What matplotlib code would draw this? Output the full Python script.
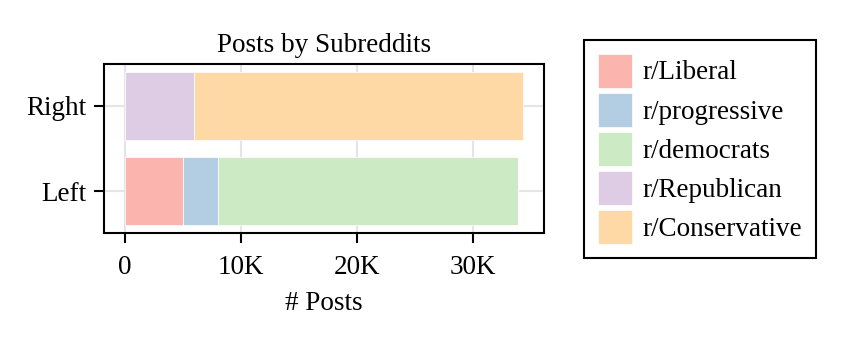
import matplotlib
matplotlib.use("Agg")
import matplotlib.pyplot as plt
from matplotlib.ticker import FuncFormatter

groups = ["Left", "Right"]
subreddits = ["r/Liberal", "r/progressive", "r/democrats", "r/Republican", "r/Conservative"]
posts_left = [5000, 3000, 25850, 0, 0]
posts_right = [0, 0, 0, 5920, 28380]
colors = ["#fbb4ae", "#b3cde3", "#ccebc5", "#decbe4", "#fed9a6"]

plt.rcParams['font.family'] = ['Liberation Serif', 'DejaVu Serif']
fs = 19.5

fig = plt.figure(figsize=(8.47, 3.39), dpi=100)
ax = fig.add_axes([0.123, 0.313, 0.519, 0.498])

left = [0, 0]
for i, name in enumerate(subreddits):
    vals = [posts_left[i], posts_right[i]]
    ax.barh(groups, vals, left=left, height=0.8, color=colors[i], label=name,
            edgecolor='white', linewidth=0.5, zorder=2)
    left = [left[j] + vals[j] for j in range(2)]

top = max(left)
ax.set_xlim(-0.052 * top, 1.052 * top)
ax.grid(True, color='#e5e5e5', linewidth=1.5, zorder=0)
ax.set_axisbelow(True)
ax.xaxis.set_major_formatter(FuncFormatter(lambda v, p: '0' if v == 0 else f'{int(v/1000)}K'))
ax.set_xticks([0, 10000, 20000, 30000])
ax.tick_params(labelsize=fs, length=7, width=1.5)
ax.tick_params(axis='x', pad=9)
ax.tick_params(axis='y', pad=5.5)
for s in ax.spines.values():
    s.set_linewidth(1.5)
ax.set_xlabel('# Posts', fontsize=fs, labelpad=8)
ax.set_title('Posts by Subreddits', fontsize=fs, pad=9)

# handleheight chosen so the drawn patch is about as tall as it is wide
leg = fig.legend(loc='upper left', bbox_to_anchor=(0.6895, 0.882), fontsize=fs,
                 handlelength=1.27, handleheight=1.556, labelspacing=0.19,
                 handletextpad=0.4, borderpad=0.5, borderaxespad=0,
                 fancybox=False, edgecolor='black', framealpha=1)
leg.get_frame().set_linewidth(1.5)

plt.savefig('out.png', dpi=100)
